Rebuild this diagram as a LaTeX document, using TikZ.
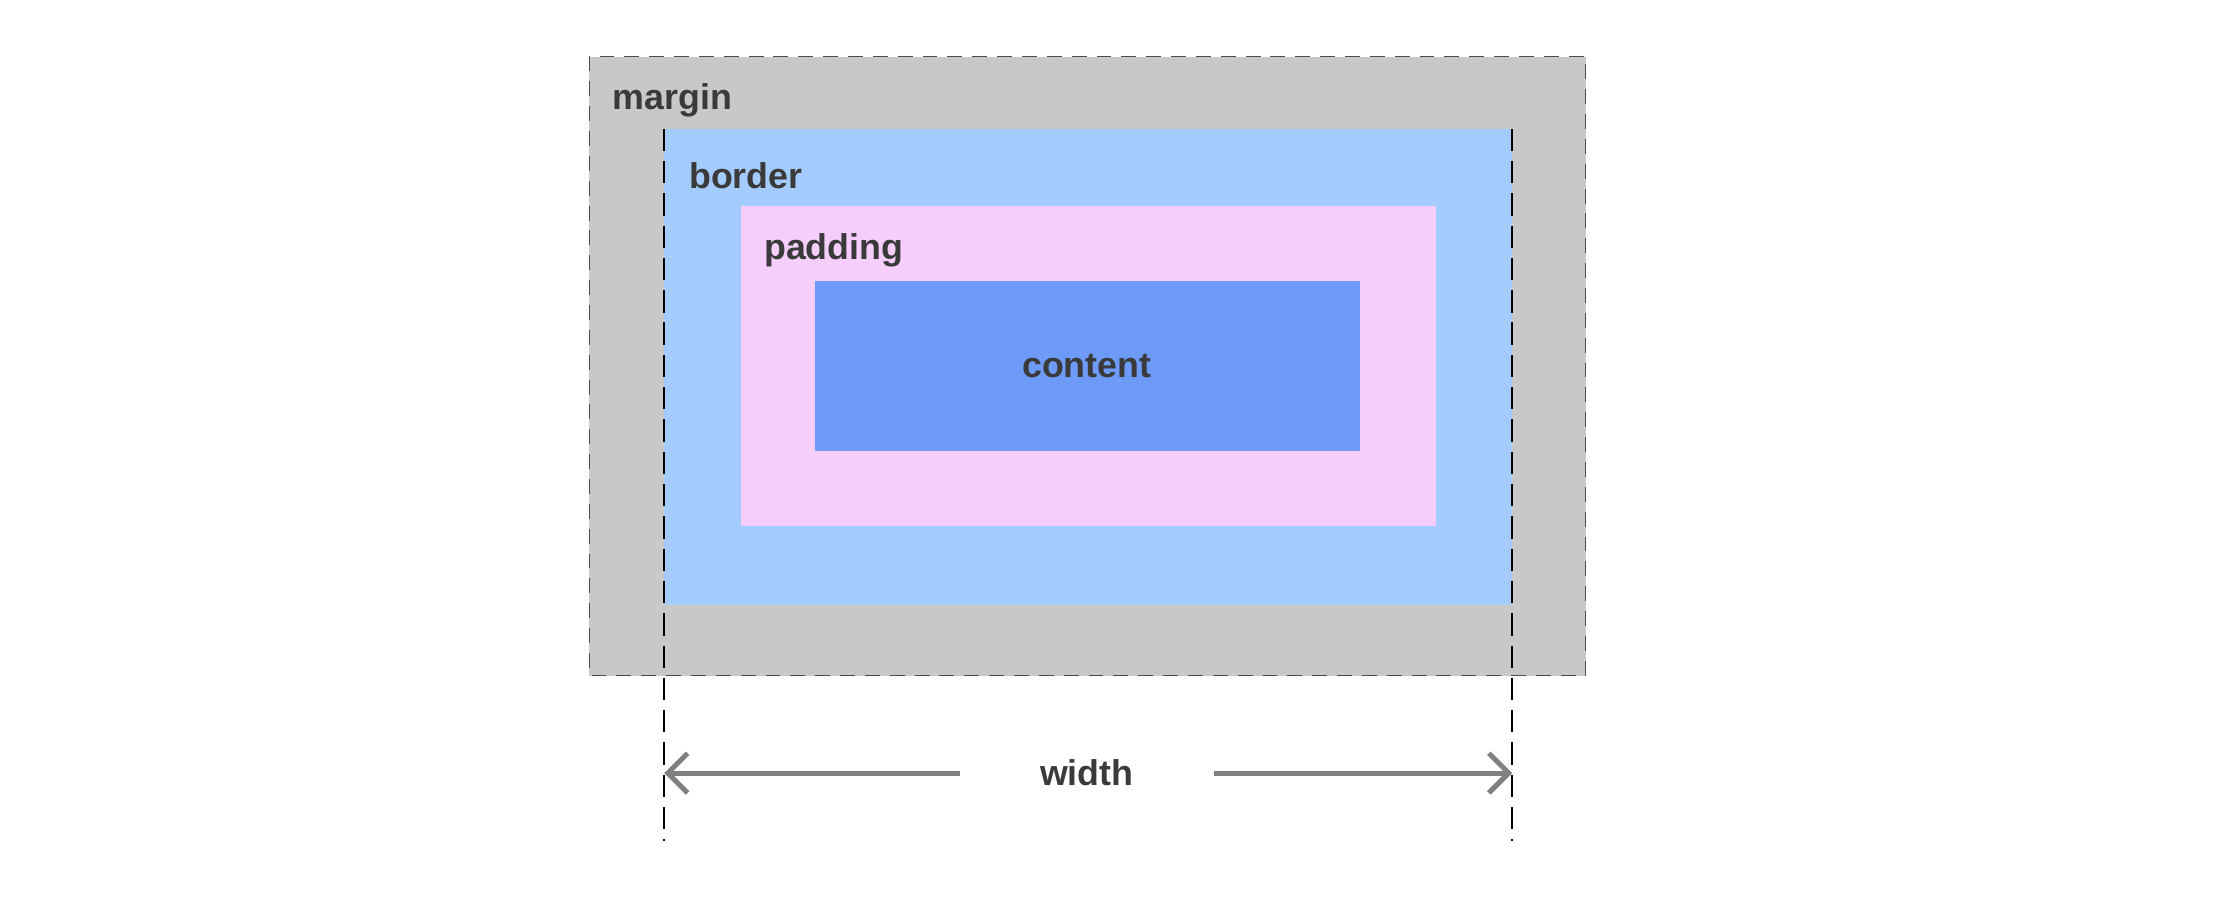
\documentclass[tikz,border=0pt]{standalone}
\usepackage{fontspec}
\setmainfont{Liberation Sans}
\usetikzlibrary{arrows.meta}
\definecolor{margingray}{HTML}{C8C8C8}
\definecolor{borderblue}{HTML}{A3CBFD}
\definecolor{paddingpink}{HTML}{F5CEFB}
\definecolor{contentblue}{HTML}{6E9AF8}
\definecolor{labelgray}{HTML}{3A3A3A}
\begin{document}
\begin{tikzpicture}[x=0.01cm,y=-0.01cm,
	lbl/.style={text=labelgray,font=\fontsize{7.2}{8}\selectfont\bfseries,inner sep=0pt},
	guide/.style={draw=black,dash pattern=on 4.5pt off 2pt,line width=0.35pt}]

	\useasboundingbox[fill=white] (0,0) rectangle (1568,638);

	\filldraw[fill=margingray,draw=black!70,densely dashed,line width=0.3pt] (417,40) rectangle (1122,478);
	\fill[borderblue] (470,91) rectangle (1070,428);
	\fill[paddingpink] (524,146) rectangle (1016,372);
	\fill[contentblue] (577,199) rectangle (962,319);

	\node[lbl,anchor=west] (margin)  at (433,71)  {margin};
	\node[lbl,anchor=west] (border)  at (487,124) {border};
	\node[lbl,anchor=west] (padding) at (540,177) {padding};
	\node[lbl] (content) at (769,259) {content};
	\node[lbl,inner xsep=16pt] (width) at (769,547) {width};

	\coordinate (lt) at (470,91);
	\coordinate (lb) at (470,595);
	\coordinate (rt) at (1070,91);
	\coordinate (rb) at (1070,595);
	\coordinate (la) at (470,547);
	\coordinate (ra) at (1070,547);

	\draw[guide] (lt) -- (lb);
	\draw[guide] (rt) -- (rb);
	\draw[-{Straight Barb[length=4pt,width=8pt]},draw=gray,line width=1pt] (width.west) -- (la);
	\draw[-{Straight Barb[length=4pt,width=8pt]},draw=gray,line width=1pt] (width.east) -- (ra);

\end{tikzpicture}
\end{document}
